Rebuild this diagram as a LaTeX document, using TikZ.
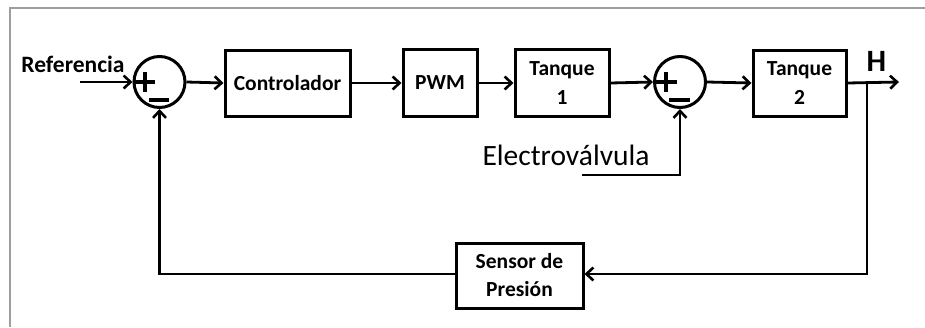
\documentclass[tikz,border=0pt]{standalone}
\usepackage{fontspec}
\setmainfont{Carlito}
\usetikzlibrary{arrows.meta}
\begin{document}
\begin{tikzpicture}[x=1pt,y=-1pt,
  blk/.style={draw=black,line width=3pt,rectangle,inner sep=0pt,align=center,
    font=\fontsize{21.5}{27}\selectfont\bfseries},
  sumc/.style={draw=black,line width=3pt,circle,inner sep=0pt,minimum size=51pt},
  conn/.style={line width=2.8pt,-{Straight Barb[length=7pt,width=13pt,line width=2.6pt]}},
  sgn/.style={line width=3.6pt}]
\useasboundingbox (0,0) rectangle (925,327);
\draw[line width=2.2pt,color=black!38] (10,327) -- (10,8) -- (925,8);

% nodes
\node[sumc] (s1) at (159.5,82) {};
\node[sumc] (s2) at (680,82) {};
\node[blk,minimum width=125pt,minimum height=66pt] (ctl) at (287.5,83) {Controlador};
\node[blk,minimum width=74pt,minimum height=67pt] (pwm) at (440,83) {PWM};
\node[blk,minimum width=94pt,minimum height=67pt] (t1) at (562,83) {Tanque\\[2pt]1};
\node[blk,minimum width=93pt,minimum height=66pt] (t2) at (799.5,83) {Tanque\\[2pt]2};
\node[blk,minimum width=127pt,minimum height=65pt] (sen) at (519.5,275.5) {Sensor de\\[1pt]Presión};

% labels
\node[font=\fontsize{23.5}{28}\selectfont\bfseries,inner sep=0pt] (ref) at (73,64) {Referencia};
\node[font=\fontsize{31}{34}\selectfont\bfseries,inner sep=0pt] (h) at (876.5,61) {H};
\node[font=\fontsize{29.5}{32}\selectfont,inner sep=0pt] (ev) at (566,155) {Electroválvula};

% signs
\draw[sgn] (135,82) -- (155,82) (145,72) -- (145,92);
\draw[sgn] (149,100) -- (169,100);
\draw[sgn] (655,82) -- (677,82) (666,72) -- (666,92);
\draw[sgn] (669,100) -- (690,100);

% coordinates
\coordinate (in) at (80,82);
\coordinate (out) at (899,82);
\coordinate (br) at (867,82);
\coordinate (brd) at (867,274);
\coordinate (fbl) at (159.5,274);
\coordinate (evs) at (582,175);
\coordinate (evc) at (680,175);

% connectors
\draw[conn] (in) -- (s1.west);
\draw[conn] (s1.east) -- (ctl.west);
\draw[conn] (ctl.east) -- (pwm.west);
\draw[conn] (pwm.east) -- (t1.west);
\draw[conn] (t1.east) -- (s2.west);
\draw[conn] (s2.east) -- (t2.west);
\draw[conn] (t2.east) -- (out);
\draw[conn] (br) -- (brd) -- (sen.east |- brd);
\draw[conn] (sen.west |- fbl) -- (fbl) -- (s1.south);
\draw[conn] (evs) -- (evc) -- (s2.south);
\end{tikzpicture}
\end{document}
